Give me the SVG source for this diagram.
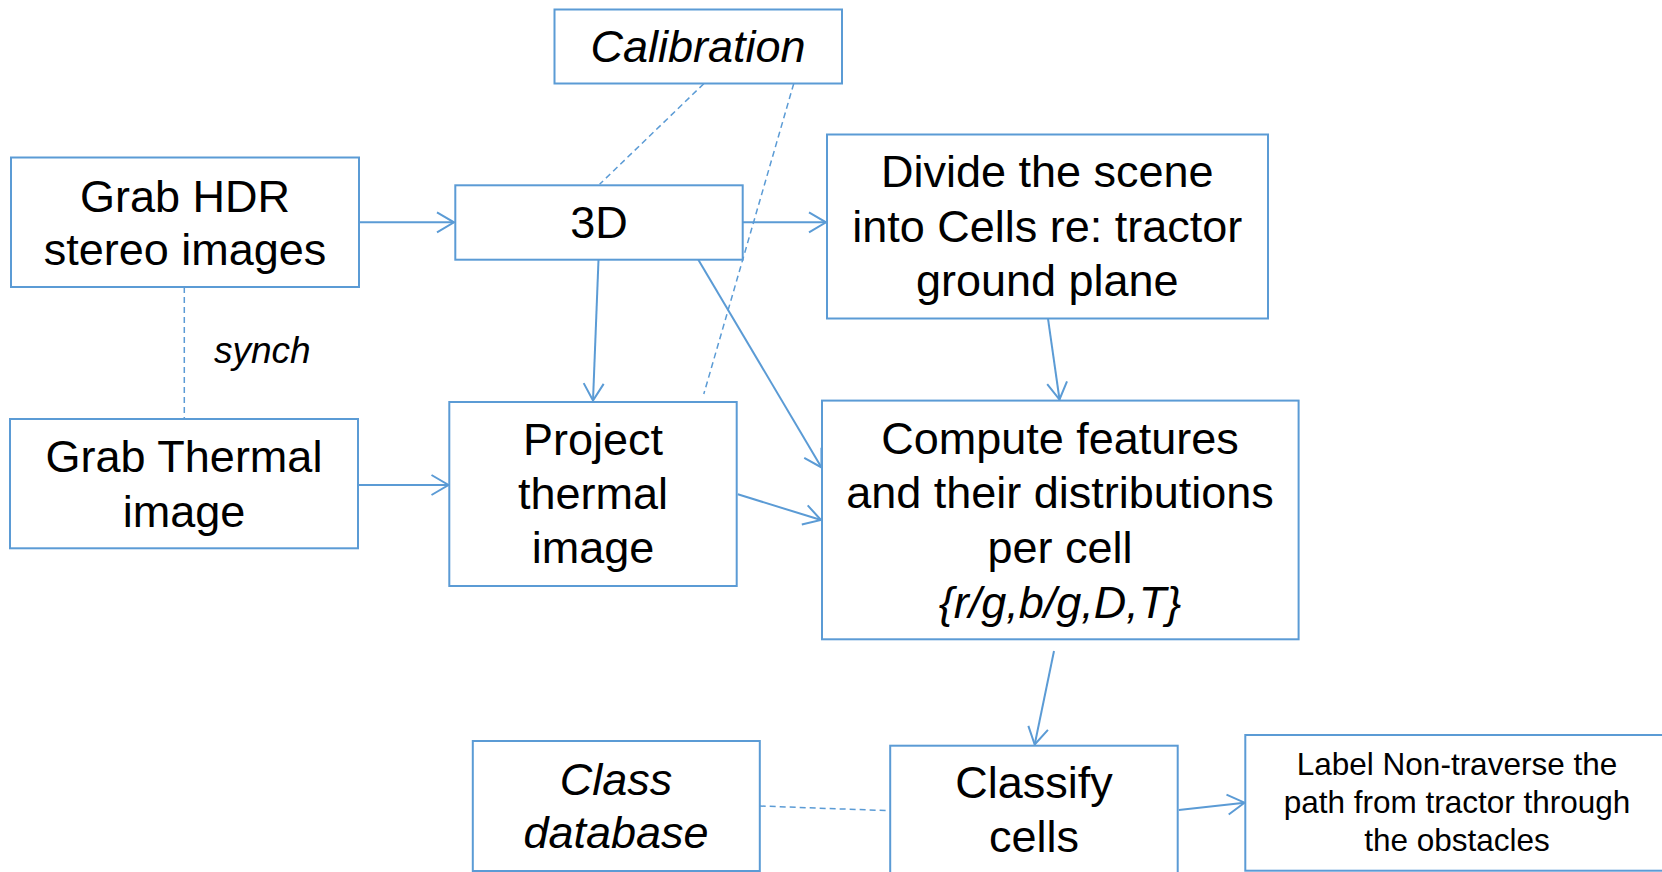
<svg xmlns="http://www.w3.org/2000/svg" width="1662" height="872" viewBox="0 0 1662 872">
<style>
.box{fill:#fff;stroke:#5B9BD5;stroke-width:2}
.t{font-family:"Liberation Sans",Arial,sans-serif;font-size:45px;fill:#000;text-anchor:middle}
.i{font-style:italic}
.s{font-size:31.5px}
.c{fill:none;stroke:#5B9BD5;stroke-width:2}
.d{fill:none;stroke:#5B9BD5;stroke-width:1.5;stroke-dasharray:6 4}
</style>
<defs>
<marker id="ah" markerUnits="userSpaceOnUse" viewBox="-20 -12 22 24" markerWidth="22" markerHeight="24" refX="0" refY="0" orient="auto" overflow="visible">
<path d="M-17,-10 L0,0 L-17,10" fill="none" stroke="#5B9BD5" stroke-width="2"/>
</marker>
</defs>
<rect width="1662" height="872" fill="#fff"/>
<g id="connectors">
<line class="c" x1="359" y1="222.3" x2="454" y2="222.3" marker-end="url(#ah)"/>
<line class="c" x1="738" y1="222.3" x2="826" y2="222.3" marker-end="url(#ah)"/>
<line class="c" x1="598.5" y1="259.7" x2="593" y2="400.5" marker-end="url(#ah)"/>
<line class="c" x1="698.3" y1="259.7" x2="821.5" y2="467.5" marker-end="url(#ah)"/>
<line class="c" x1="1048" y1="318.7" x2="1059.5" y2="399.5" marker-end="url(#ah)"/>
<line class="c" x1="355.5" y1="485" x2="448.5" y2="485" marker-end="url(#ah)"/>
<line class="c" x1="737.8" y1="494.3" x2="821" y2="520" marker-end="url(#ah)"/>
<line class="c" x1="1054" y1="651" x2="1034.7" y2="744.5" marker-end="url(#ah)"/>
<line class="c" x1="1178.8" y1="810" x2="1244.5" y2="802.7" marker-end="url(#ah)"/>
<line class="d" x1="703.8" y1="83.7" x2="599.6" y2="184.3"/>
<line class="d" x1="793.7" y1="83.7" x2="703.8" y2="394"/>
<line class="d" x1="184.3" y1="287" x2="184.3" y2="419"/>
<line class="d" x1="759.7" y1="806" x2="889.6" y2="810.7"/>
<text class="t i" x="214" y="363" style="font-size:37px;text-anchor:start">synch</text>
</g>
<g id="calibration">
<rect class="box" x="554.5" y="9.5" width="287.5" height="74"/>
<text class="t i" x="698" y="62">Calibration</text>
</g>
<g id="grab-hdr">
<rect class="box" x="11" y="157.5" width="348" height="129.5"/>
<text class="t" x="185" y="211.7">Grab HDR</text>
<text class="t" x="185" y="265">stereo images</text>
</g>
<g id="n3d">
<rect class="box" x="455.3" y="185.3" width="287.4" height="74.4"/>
<text class="t" x="599" y="238">3D</text>
</g>
<g id="divide">
<rect class="box" x="827" y="134.5" width="441" height="184"/>
<text class="t" x="1047.3" y="187">Divide the scene</text>
<text class="t" x="1047.3" y="242">into Cells re: tractor</text>
<text class="t" x="1047.3" y="296">ground plane</text>
</g>
<g id="grab-thermal">
<rect class="box" x="10" y="419" width="348" height="129.3"/>
<text class="t" x="184" y="471.7">Grab Thermal</text>
<text class="t" x="184" y="526.7">image</text>
</g>
<g id="project">
<rect class="box" x="449.3" y="402" width="287.4" height="184"/>
<text class="t" x="593" y="455">Project</text>
<text class="t" x="593" y="509">thermal</text>
<text class="t" x="593" y="563.3">image</text>
</g>
<g id="compute">
<rect class="box" x="822" y="400.6" width="476.6" height="238.7"/>
<text class="t" x="1060" y="454">Compute features</text>
<text class="t" x="1060" y="508.4">and their distributions</text>
<text class="t" x="1060" y="563">per cell</text>
<text class="t i" x="1060" y="617.6">{r/g,b/g,D,T}</text>
</g>
<g id="class-database">
<rect class="box" x="472.8" y="741" width="287" height="130"/>
<text class="t i" x="616" y="795">Class</text>
<text class="t i" x="616" y="848.3">database</text>
</g>
<g id="classify">
<rect class="box" x="890.2" y="745.7" width="287.5" height="140"/>
<text class="t" x="1034" y="798.3">Classify</text>
<text class="t" x="1034" y="851.7">cells</text>
</g>
<g id="label">
<rect class="box" x="1245.3" y="735" width="430" height="135.7"/>
<text class="t s" x="1457" y="775">Label Non-traverse the</text>
<text class="t s" x="1457" y="813.3">path from tractor through</text>
<text class="t s" x="1457" y="850.7">the obstacles</text>
</g>
</svg>
